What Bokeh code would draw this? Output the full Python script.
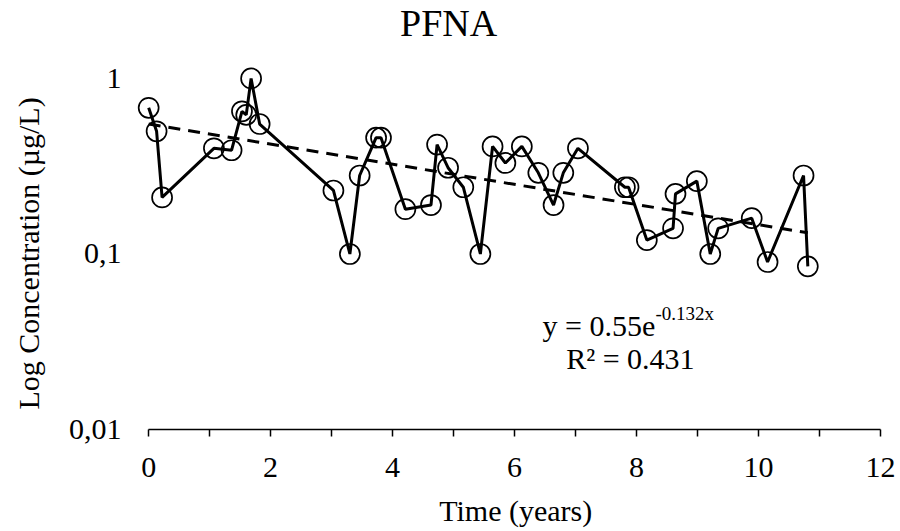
import math
import numpy as np
from bokeh.plotting import figure
from bokeh.models import Range1d, FixedTicker, Label
from bokeh.embed import file_html
from bokeh.resources import INLINE

# ---- data ----
time_years = [0.00, 0.13, 0.22, 1.07, 1.36, 1.53, 1.60, 1.68, 1.82, 3.03,
              3.30, 3.46, 3.73, 3.81, 4.21, 4.63, 4.73, 4.91, 5.16, 5.44,
              5.64, 5.85, 6.12, 6.39, 6.64, 6.80, 7.04, 7.81, 7.87, 8.17,
              8.60, 8.64, 8.99, 9.21, 9.34, 9.89, 10.15, 10.74, 10.81]
concentration = [0.68, 0.50, 0.21, 0.40, 0.39, 0.65, 0.62, 1.00, 0.55, 0.23,
                 0.10, 0.28, 0.46, 0.46, 0.18, 0.19, 0.42, 0.31, 0.24, 0.10,
                 0.41, 0.33, 0.41, 0.29, 0.19, 0.29, 0.40, 0.24, 0.24, 0.12,
                 0.14, 0.22, 0.26, 0.10, 0.14, 0.16, 0.09, 0.28, 0.085]

trend_a = 0.55
trend_b = -0.132
r_squared = 0.431

title_text = "PFNA"
x_title = "Time (years)"
y_title = "Log Concentration (µg/L)"
x_ticks = [0, 2, 4, 6, 8, 10, 12]
x_minor_ticks = [1, 3, 5, 7, 9, 11]
y_ticks = [0.01, 0.1, 1]
y_tick_labels = ["0,01", "0,1", "1"]

FONT = "Liberation Serif"

# The frame covers the whole canvas; both axes are pinned at fixed data
# positions (x axis at y = 0.01, y axis just left of x = 0), and the titles
# sit inside the frame as labels.
p = figure(width=900, height=531, y_axis_type="log",
           x_range=Range1d(-2.43, 12.33), y_range=Range1d(0.002624, 2.78),
           output_backend="svg", toolbar_location=None,
           min_border_left=0, min_border_right=0,
           min_border_top=0, min_border_bottom=0)
p.title = None
p.xgrid.visible = False
p.ygrid.visible = False
p.outline_line_color = None
p.background_fill_color = "white"
p.border_fill_color = "white"

# x axis
xa = p.xaxis[0]
xa.fixed_location = min(y_ticks)
xa.ticker = FixedTicker(ticks=x_ticks, minor_ticks=x_minor_ticks)
xa.bounds = (min(x_ticks), max(x_ticks))
xa.axis_line_color = "black"
xa.axis_line_width = 1.5
xa.major_tick_in = 0
xa.major_tick_out = 7
xa.minor_tick_in = 0
xa.minor_tick_out = 7
xa.major_tick_line_color = "black"
xa.minor_tick_line_color = "black"
xa.major_tick_line_width = 1.5
xa.minor_tick_line_width = 1.5
xa.major_label_standoff = 21
xa.major_label_text_font = FONT
xa.major_label_text_font_size = "30px"
xa.major_label_text_color = "black"

# y axis
ya = p.yaxis[0]
ya.fixed_location = -0.2
ya.ticker = FixedTicker(ticks=y_ticks, minor_ticks=[])
ya.major_label_overrides = {t: lab for t, lab in zip(y_ticks, y_tick_labels)}
ya.axis_line_color = None
ya.major_tick_line_color = None
ya.minor_tick_line_color = None
ya.major_tick_out = 0
ya.major_tick_in = 0
ya.minor_tick_out = 0
ya.minor_tick_in = 0
ya.major_label_standoff = 15
ya.major_label_text_font = FONT
ya.major_label_text_font_size = "30px"
ya.major_label_text_color = "black"

# series
p.line(time_years, concentration, line_color="black", line_width=3)
p.scatter(time_years, concentration, marker="circle", size=20,
          fill_color=None, line_color="black", line_width=1.7)

# exponential trendline (from printed equation)
tx = np.array([min(time_years), max(time_years)])
ty = trend_a * np.exp(trend_b * tx)
p.line(tx, ty, line_color="black", line_width=3, line_dash="12 8")

# chart title
p.add_layout(Label(x=4.92, y=2.06, text=title_text, text_align="center",
                   text_baseline="middle", text_font=FONT,
                   text_font_size="38px", text_color="black"))

# axis titles
p.add_layout(Label(x=6.02, y=0.00346, text=x_title,
                   text_align="center", text_baseline="middle",
                   text_font=FONT, text_font_size="30px", text_color="black"))
p.add_layout(Label(x=-1.975, y=0.1007, text=y_title, angle=math.pi / 2,
                   text_align="center", text_baseline="middle",
                   text_font=FONT, text_font_size="30px", text_color="black"))

# equation labels
p.add_layout(Label(x=6.46, y=0.0391, text=f"y = {trend_a}e",
                   text_align="left", text_baseline="middle",
                   text_font=FONT, text_font_size="30px", text_color="black"))
p.add_layout(Label(x=8.31, y=0.0458, text=f"{trend_b}x",
                   text_align="left", text_baseline="middle",
                   text_font=FONT, text_font_size="19px", text_color="black"))
p.add_layout(Label(x=7.90, y=0.0254, text=f"R² = {r_squared}",
                   text_align="center", text_baseline="middle",
                   text_font=FONT, text_font_size="30px", text_color="black"))

open("out.html", "w").write(file_html(p, INLINE))
